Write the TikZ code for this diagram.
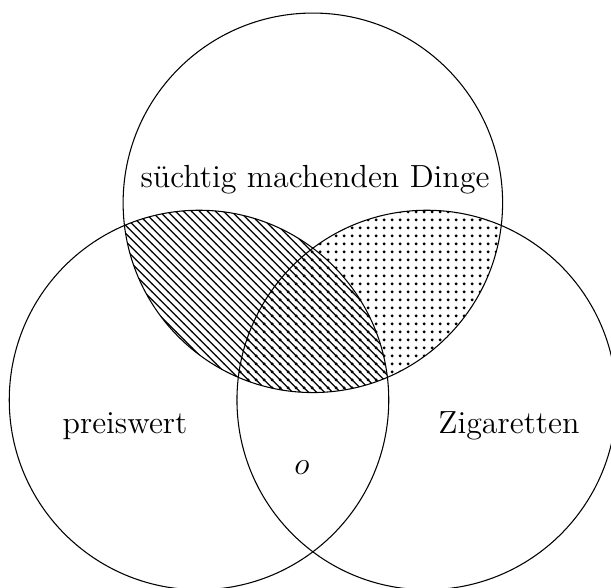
\documentclass[12pt,tikz,border=0pt]{standalone}
\usetikzlibrary{patterns}
\pgfdeclarepatternformonly{bigdots}{\pgfqpoint{-1pt}{-1pt}}{\pgfqpoint{1pt}{1pt}}{\pgfqpoint{3pt}{3pt}}%
{
  \pgfpathcircle{\pgfqpoint{0pt}{0pt}}{.6pt}
  \pgfusepath{fill}
}
\pgfdeclarepatternformonly{nwlines}{\pgfqpoint{-1pt}{-1pt}}{\pgfqpoint{4pt}{4pt}}{\pgfqpoint{3pt}{3pt}}%
{
  \pgfsetlinewidth{0.45pt}
  \pgfpathmoveto{\pgfqpoint{0pt}{3pt}}
  \pgfpathlineto{\pgfqpoint{3.1pt}{-0.1pt}}
  \pgfusepath{stroke}
}
\begin{document}
\begin{tikzpicture}[
  setcircle/.style={draw=black, line width=0.4pt},
  lbl/.style={anchor=base, inner sep=0pt, font=\normalsize}
]
\useasboundingbox (-2.622,-2.477) rectangle (5.428,5.270);
\coordinate (L) at (0,0);
\coordinate (R) at (3,0);
\coordinate (T) at (1.5,2.598);
\def\rad{2.5cm}
% hatched: top intersect left
\begin{scope}
  \clip (T) circle[radius=\rad];
  \fill[pattern=nwlines] (L) circle[radius=\rad];
\end{scope}
% dotted: top intersect right
\begin{scope}
  \clip (T) circle[radius=\rad];
  \fill[pattern=bigdots] (R) circle[radius=\rad];
\end{scope}
\draw[setcircle] (T) circle[radius=\rad];
\draw[setcircle] (L) circle[radius=\rad];
\draw[setcircle] (R) circle[radius=\rad];
\node[lbl] (top) at (1.528,2.806) {süchtig machenden Dinge};
\node[lbl] (pw) at (-0.975,-0.435) {preiswert};
\node[lbl] (zig) at (4.084,-0.435) {Zigaretten};
\node[lbl] (o) at (1.357,-0.98) {$o$};
\end{tikzpicture}
\end{document}
